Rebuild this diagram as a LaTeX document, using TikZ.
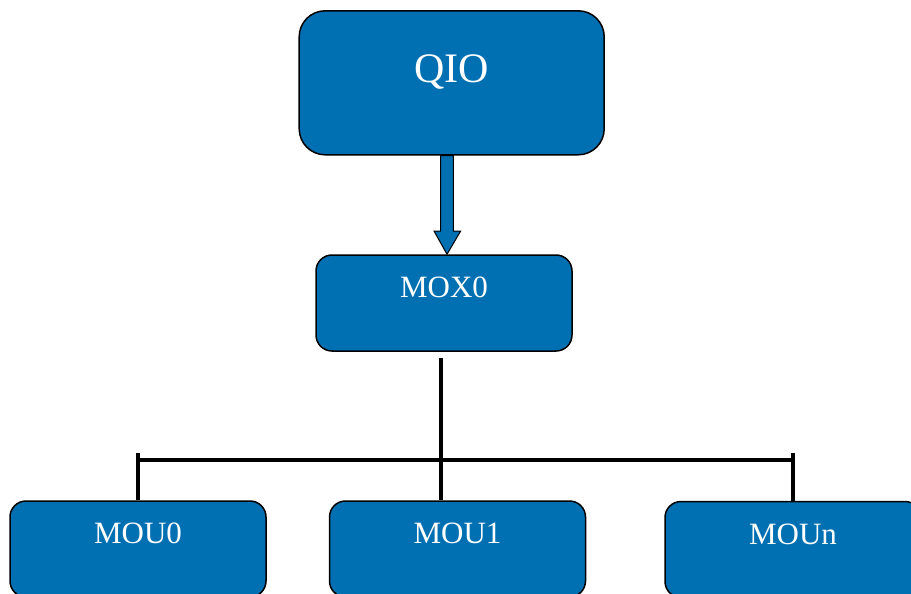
\documentclass[tikz,border=0pt]{standalone}
\usepackage{fontspec}
\setmainfont{Liberation Serif}
\usetikzlibrary{calc}
\definecolor{boxblue}{RGB}{0,112,178}
\tikzset{
  unitbox/.style={draw=black, line width=1.5pt, fill=boxblue, text=white,
    inner xsep=0pt, inner ysep=0pt, anchor=base},
  topbox/.style={unitbox, rounded corners=26pt, minimum width=305pt,
    text height=72pt, text depth=72pt, font=\fontsize{42}{50}\selectfont},
  midbox/.style={unitbox, rounded corners=16pt, minimum width=256pt,
    text height=42.5pt, text depth=53.5pt, font=\fontsize{31}{37}\selectfont},
  blockarrow/.style={draw=black, line width=1pt, fill=boxblue, line join=miter},
  tree/.style={draw=black, line width=4pt}
}
\begin{document}
\begin{tikzpicture}[x=1pt, y=-1pt]
  \useasboundingbox (0,0) rectangle (911,594);
  \clip (0,0) rectangle (911,594);

  % boxes
  \node[topbox] (qio)  at (451.7,82.8)  {QIO};
  \node[midbox] (mox)  at (444,297.5)   {MOX0};
  \node[midbox] (mou0) at (138,543.5)   {MOU0};
  \node[midbox] (mou1) at (457.5,543.5) {MOU1};
  \node[midbox] (moun) at (793,544)     {MOUn};

  % block arrow from QIO down to MOX0
  \draw[blockarrow] (qio.south -| 440.7,0) -- (440.7,231) -- (434,231)
    -- (mox.north -| 447,0) -- (460.7,231) -- (453.3,231)
    -- (qio.south -| 453.3,0) -- cycle;

  % tree connector from MOX0 to the MOU boxes
  \coordinate (trunk) at ($(mox.south -| 441,0)+(0,6)$);
  \draw[tree] (trunk) -- (mou1.north -| 441,0);
  \draw[tree] (mou0.north |- 0,460) -- (moun.north |- 0,460);
  \draw[tree] (mou0.north |- 0,453) -- (mou0.north);
  \draw[tree] (moun.north |- 0,453) -- (moun.north);
\end{tikzpicture}
\end{document}
